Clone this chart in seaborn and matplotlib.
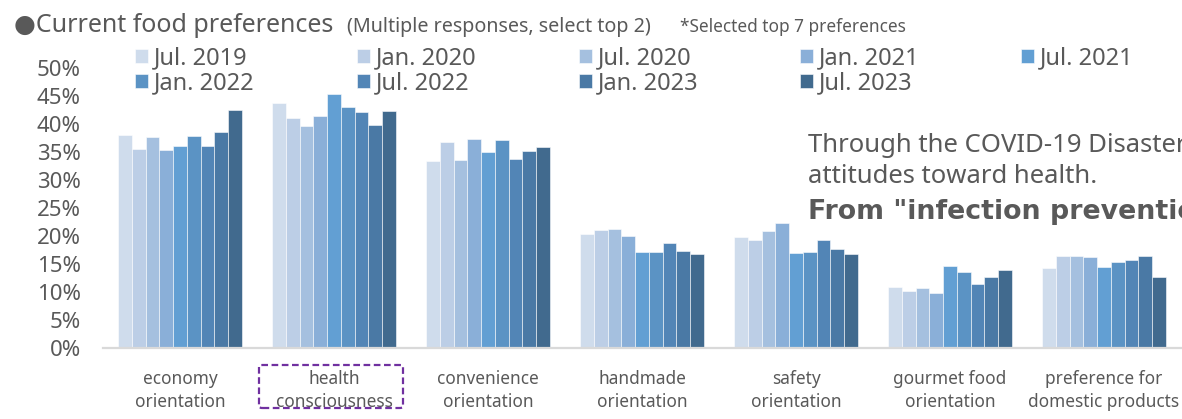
import numpy as np
import pandas as pd
import matplotlib
matplotlib.use("Agg")
import matplotlib.pyplot as plt
import seaborn as sns
from matplotlib.patches import FancyBboxPatch
from matplotlib.ticker import FuncFormatter, MultipleLocator

categories = ["economy\norientation", "health\nconsciousness", "convenience\norientation",
              "handmade\norientation", "safety\norientation", "gourmet food\norientation",
              "preference for\ndomestic products"]
periods = ["Jul. 2019", "Jan. 2020", "Jul. 2020", "Jan. 2021", "Jul. 2021",
           "Jan. 2022", "Jul. 2022", "Jan. 2023", "Jul. 2023"]

jul_2019 = [38.1, 43.8, 33.4, 20.4, 19.8, 10.9, 14.2]
jan_2020 = [35.5, 41.0, 36.8, 21.1, 19.2, 10.2, 16.5]
jul_2020 = [37.7, 39.7, 33.6, 21.2, 20.9, 10.8, 16.4]
jan_2021 = [35.4, 41.4, 37.3, 20.0, 22.4, 9.8, 16.3]
jul_2021 = [36.1, 45.4, 35.0, 17.1, 16.9, 14.6, 14.5]
jan_2022 = [37.8, 43.0, 37.1, 17.1, 17.1, 13.6, 15.4]
jul_2022 = [36.1, 42.1, 33.8, 18.7, 19.3, 11.5, 15.7]
jan_2023 = [38.5, 39.8, 35.2, 17.3, 17.6, 12.7, 16.4]
jul_2023 = [42.5, 42.3, 35.9, 16.8, 16.7, 13.9, 12.7]

series = [jul_2019, jan_2020, jul_2020, jan_2021, jul_2021,
          jan_2022, jul_2022, jan_2023, jul_2023]
colors = ["#cfdcec", "#bccee6", "#a5c0df", "#8aafd8", "#629fd3",
          "#5b93c4", "#5285b6", "#4a79a5", "#416a8e"]

rows = []
for p, vals in zip(periods, series):
    for c, v in zip(categories, vals):
        rows.append({"category": c, "period": p, "value": v})
df = pd.DataFrame(rows)

W, H = 1182, 419
TXT = "#595959"
sns.set_theme(style="white")
plt.rcParams["font.family"] = ["Noto Sans", "DejaVu Sans"]

fig = plt.figure(figsize=(W / 100, H / 100), dpi=100)
ax = fig.add_axes([103 / W, 1 - 348 / H, (1181 - 103) / W, (348 - 68) / H])

sns.barplot(data=df, x="category", y="value", hue="period", order=categories,
            hue_order=periods, palette=colors, width=0.805, ax=ax,
            edgecolor=(1, 1, 1, 0.55), linewidth=0.7, errorbar=None, saturation=1)

ax.set_xlim(-0.5, 6.5)
ax.set_ylim(0, 50)
ax.yaxis.set_major_locator(MultipleLocator(5))
ax.yaxis.set_major_formatter(FuncFormatter(lambda v, _: f"{v:.0f}%"))
ax.set_xlabel("")
ax.set_ylabel("")
for s in ["top", "right", "left"]:
    ax.spines[s].set_visible(False)
ax.spines["bottom"].set_color("#d9d9d9")
ax.spines["bottom"].set_linewidth(1.6)
ax.tick_params(axis="y", length=0, pad=16, labelsize=16, labelcolor=TXT)
ax.tick_params(axis="x", length=0, pad=16, labelsize=12.4, labelcolor=TXT)
for lab in ax.get_xticklabels():
    lab.set_linespacing(1.35)

handles, labels = ax.get_legend_handles_labels()
ax.get_legend().remove()
col_x = [135, 357, 579, 800, 1021]
for j, x in enumerate(col_x):
    idx = [j, j + 5] if j + 5 < len(handles) else [j]
    fig.legend([handles[i] for i in idx], [labels[i] for i in idx],
               loc="upper left", bbox_to_anchor=(x / W, 1 - 46.5 / H),
               bbox_transform=fig.transFigure, frameon=False, fontsize=17,
               handlelength=0.55, handleheight=0.55, handletextpad=0.25,
               labelspacing=0.02, borderpad=0, borderaxespad=0,
               labelcolor=TXT)

def fy(y):
    return 1 - y / H

fig.text(14 / W, fy(32), "\u25cfCurrent food preferences", fontsize=18, color=TXT,
         va="baseline", ha="left")
fig.text(347 / W, fy(32), "(Multiple responses, select top 2)", fontsize=14.2,
         color=TXT, va="baseline", ha="left")
fig.text(680 / W, fy(32), "*Selected top 7 preferences", fontsize=12.4,
         color=TXT, va="baseline", ha="left")

fig.text(808 / W, fy(152), "Through the COVID-19 Disaster,", fontsize=18.5,
         color=TXT, va="baseline", ha="left")
fig.text(808 / W, fy(183), "attitudes toward health.", fontsize=18.5,
         color=TXT, va="baseline", ha="left")
fig.text(808 / W, fy(219), "From \"infection prevention\"", fontsize=19.3,
         color=TXT, va="baseline", ha="left", fontweight="bold",
         family=["DejaVu Sans"])

box = FancyBboxPatch((259 / W, fy(408)), (403 - 259) / W, (408 - 365) / H,
                     boxstyle="round,pad=0,rounding_size=0.003",
                     transform=fig.transFigure, fill=False, edgecolor="#7030a0",
                     linewidth=1.6, linestyle=(0, (3, 1.6)))
fig.patches.append(box)

fig.savefig("out.png", dpi=100)
